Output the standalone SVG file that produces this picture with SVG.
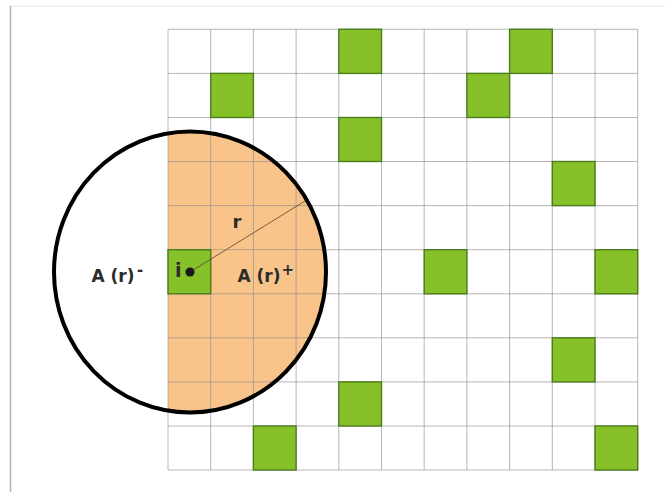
<svg xmlns="http://www.w3.org/2000/svg" width="665" height="492" viewBox="0 0 665 492">
  <defs>
    <clipPath id="circClip">
      <ellipse cx="190" cy="272" rx="136" ry="140.5"/>
    </clipPath>
    <style>
      .grid line { stroke: #8a8a8a; stroke-opacity: 0.62; stroke-width: 1; }
      .g { fill: #86c12a; stroke: #4a7d1c; stroke-width: 1.4; }
      .lbl { font-family: "DejaVu Sans", "Open Sans", sans-serif; font-weight: bold; fill: #2b2b2b; }
    </style>
  </defs>
  <rect x="0" y="0" width="665" height="492" fill="#ffffff"/>
  <line x1="10.5" y1="6" x2="665" y2="6" stroke="#e6e6e6" stroke-width="1.2"/>
  <line x1="10.5" y1="6" x2="10.5" y2="492" stroke="#b4b4b4" stroke-width="1.5"/>

  <g id="orange-half">
    <rect x="168" y="120" width="170" height="300" fill="#f9c48a" clip-path="url(#circClip)"/>
  </g>

  <g id="grid" class="grid">
    <line x1="168" y1="29.3" x2="168" y2="470"/>
    <line x1="210.7" y1="29.3" x2="210.7" y2="470"/>
    <line x1="253.4" y1="29.3" x2="253.4" y2="470"/>
    <line x1="296.1" y1="29.3" x2="296.1" y2="470"/>
    <line x1="338.8" y1="29.3" x2="338.8" y2="470"/>
    <line x1="381.5" y1="29.3" x2="381.5" y2="470"/>
    <line x1="424.2" y1="29.3" x2="424.2" y2="470"/>
    <line x1="466.9" y1="29.3" x2="466.9" y2="470"/>
    <line x1="509.6" y1="29.3" x2="509.6" y2="470"/>
    <line x1="552.3" y1="29.3" x2="552.3" y2="470"/>
    <line x1="595" y1="29.3" x2="595" y2="470"/>
    <line x1="637.7" y1="29.3" x2="637.7" y2="470"/>
    <line x1="168" y1="29.3" x2="637.7" y2="29.3"/>
    <line x1="168" y1="73.4" x2="637.7" y2="73.4"/>
    <line x1="168" y1="117.5" x2="637.7" y2="117.5"/>
    <line x1="168" y1="161.5" x2="637.7" y2="161.5"/>
    <line x1="168" y1="205.6" x2="637.7" y2="205.6"/>
    <line x1="168" y1="249.7" x2="637.7" y2="249.7"/>
    <line x1="168" y1="293.8" x2="637.7" y2="293.8"/>
    <line x1="168" y1="337.8" x2="637.7" y2="337.8"/>
    <line x1="168" y1="381.9" x2="637.7" y2="381.9"/>
    <line x1="168" y1="426" x2="637.7" y2="426"/>
    <line x1="168" y1="470" x2="637.7" y2="470"/>
  </g>

  <g id="green-cells">
    <rect class="g" x="338.8" y="29.3" width="42.7" height="44.1"/>
    <rect class="g" x="509.6" y="29.3" width="42.7" height="44.1"/>
    <rect class="g" x="210.7" y="73.4" width="42.7" height="44.1"/>
    <rect class="g" x="466.9" y="73.4" width="42.7" height="44.1"/>
    <rect class="g" x="338.8" y="117.5" width="42.7" height="44"/>
    <rect class="g" x="552.3" y="161.5" width="42.7" height="44.1"/>
    <rect class="g" x="168" y="249.7" width="42.7" height="44.1"/>
    <rect class="g" x="424.2" y="249.7" width="42.7" height="44.1"/>
    <rect class="g" x="595" y="249.7" width="42.7" height="44.1"/>
    <rect class="g" x="552.3" y="337.8" width="42.7" height="44.1"/>
    <rect class="g" x="338.8" y="381.9" width="42.7" height="44.1"/>
    <rect class="g" x="253.4" y="426" width="42.7" height="44"/>
    <rect class="g" x="595" y="426" width="42.7" height="44"/>
  </g>

  <g id="neighbourhood">
    <ellipse cx="190" cy="272" rx="136" ry="140.5" fill="none" stroke="#000000" stroke-width="4"/>
    <line x1="190" y1="272" x2="305" y2="201" stroke="#5a4030" stroke-width="0.8"/>
    <circle cx="190" cy="272" r="4.6" fill="#1a1a1a"/>
  </g>

  <g id="labels">
    <text class="lbl" x="232.5" y="227.5" font-size="18">r</text>
    <text class="lbl" x="175" y="276.5" font-size="19">i</text>
    <text class="lbl" x="91.5" y="281.7" font-size="17">A (r)</text>
    <text class="lbl" x="137" y="275" font-size="15">-</text>
    <text class="lbl" x="237.5" y="281.7" font-size="17">A (r)</text>
    <text class="lbl" x="281.5" y="274.5" font-size="15">+</text>
  </g>
</svg>
